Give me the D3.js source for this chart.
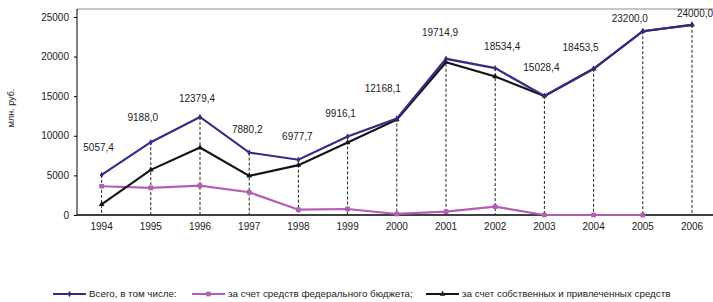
<!DOCTYPE html>
<html>
<head>
<meta charset="utf-8">
<script src="https://cdn.jsdelivr.net/npm/d3@7"></script>
<style>
  body { margin: 0; background: #fff; }
  svg { font-family: "Liberation Sans", Arial, sans-serif; }
</style>
</head>
<body>
<svg id="chart" width="713" height="302"></svg>
<script>
/** data **/
var years = ["1994","1995","1996","1997","1998","1999","2000","2001","2002","2003","2004","2005","2006"];
var total = [5057.4, 9188.0, 12379.4, 7880.2, 6977.7, 9916.1, 12168.1, 19714.9, 18534.4, 15028.4, 18453.5, 23200.0, 24000.0];
var federal = [3630, 3420, 3710, 2870, 670, 760, 130, 420, 1050, 0, 0, 0, null];
var own = [1350, 5700, 8520, 4940, 6290, 9150, 12030, 19290, 17480, 15028.4, 18453.5, 23200.0, 24000.0];
var yTicks = [0, 5000, 10000, 15000, 20000, 25000];
var seriesNames = ["Всего, в том числе:", "за счет средств федерального бюджета;", "за счет собственных и привлеченных средств"];

// label placement (hand nudged like in the original)
var labelDx = [-3, -8, -3, -2, -1, -7, -14, -6, 7, -3, -13, -13, 3];
var labelDy = [-27, -25, -18, -23, -23, -23, -30, -26, -22, -28, -21, -13, -11];

var colors = ["#352c86", "#b35db3", "#151515"];

var svg = d3.select("#chart");
var pLeft = 77, pRight = 716.6, pTop = 9, pBottom = 215;

var x = d3.scaleBand().domain(years).range([pLeft, pRight]);
var cx = function(d) { return x(d) + x.bandwidth() / 2; };
var y = d3.scaleLinear().domain([0, 26000]).range([pBottom, pTop]);

// plot frame top
svg.append("line")
  .attr("x1", pLeft).attr("x2", 713).attr("y1", pTop).attr("y2", pTop)
  .attr("stroke", "#8c8c8c").attr("stroke-width", 1);

// y axis
var yAxis = svg.append("g")
  .attr("transform", "translate(" + pLeft + ",0)")
  .call(d3.axisLeft(y).tickValues(yTicks).tickSize(3).tickPadding(5).tickFormat(d3.format("d")));
yAxis.select(".domain").attr("d", "M0," + pTop + "V" + pBottom).attr("stroke", "#000");
yAxis.selectAll("text").attr("font-size", "10px").attr("fill", "#222").attr("font-family", "Liberation Sans, Arial, sans-serif");

svg.append("text")
  .attr("transform", "translate(14,108) rotate(-90)")
  .attr("text-anchor", "middle")
  .attr("font-size", "9px").attr("fill", "#222")
  .text("млн. руб.");

// x axis
var xAxis = svg.append("g")
  .attr("transform", "translate(0," + pBottom + ")")
  .call(d3.axisBottom(x).tickSize(0).tickPadding(8));
xAxis.select(".domain").attr("d", "M" + pLeft + ",0H713").attr("stroke", "#000").attr("stroke-width", 1.5);
xAxis.selectAll("text").attr("font-size", "10px").attr("fill", "#222").attr("font-family", "Liberation Sans, Arial, sans-serif");

// drop lines
svg.append("g").selectAll("line")
  .data(years)
  .enter()
  .append("line")
  .attr("x1", function(d) { return cx(d); })
  .attr("x2", function(d) { return cx(d); })
  .attr("y1", function(d, i) { return y(total[i]); })
  .attr("y2", pBottom)
  .attr("stroke", "#222").attr("stroke-width", 1).attr("stroke-dasharray", "3,2");

var allSeries = [federal, own, total];
var seriesColor = [colors[1], colors[2], colors[0]];
var shapes = [d3.symbolSquare, d3.symbolTriangle, d3.symbolDiamond];
var shapeSize = [22, 14, 12];

allSeries.forEach(function(vals, k) {
  var line = d3.line()
    .defined(function(d) { return d != null; })
    .x(function(d, i) { return cx(years[i]); })
    .y(function(d) { return y(d); });
  svg.append("path")
    .datum(vals)
    .attr("d", line)
    .attr("fill", "none")
    .attr("stroke", seriesColor[k])
    .attr("stroke-width", 2.2);
  svg.append("g").selectAll("path")
    .data(vals.map(function(v, i) { return {v: v, i: i}; }).filter(function(d) { return d.v != null; }))
    .enter()
    .append("path")
    .attr("transform", function(d) { return "translate(" + cx(years[d.i]) + "," + y(d.v) + ")"; })
    .attr("d", d3.symbol().type(shapes[k]).size(shapeSize[k]))
    .attr("fill", seriesColor[k]);
});

// value labels
svg.append("g").selectAll("text")
  .data(total)
  .enter()
  .append("text")
  .attr("x", function(d, i) { return cx(years[i]) + labelDx[i]; })
  .attr("y", function(d, i) { return y(d) + labelDy[i]; })
  .attr("dy", "0.35em")
  .attr("text-anchor", "middle")
  .attr("font-size", "10px").attr("fill", "#222")
  .text(function(d) { return d.toFixed(1).replace(".", ","); });

// legend
var legX = [53, 192, 426];
var legShape = [d3.symbolDiamond, d3.symbolSquare, d3.symbolTriangle];
var legSize = [12, 22, 14];
[0, 1, 2].forEach(function(k) {
  var g = svg.append("g").attr("transform", "translate(" + legX[k] + ",294)");
  g.append("line").attr("x1", 0).attr("x2", 33).attr("y1", 0).attr("y2", 0)
    .attr("stroke", colors[k]).attr("stroke-width", 2.2);
  g.append("path").attr("transform", "translate(16.5,0)")
    .attr("d", d3.symbol().type(legShape[k]).size(legSize[k]))
    .attr("fill", colors[k]);
  g.append("text").attr("x", 36).attr("y", 0).attr("dy", "0.35em")
    .attr("font-size", "9.8px").attr("fill", "#222")
    .text(seriesNames[k]);
});
</script>
</body>
</html>
